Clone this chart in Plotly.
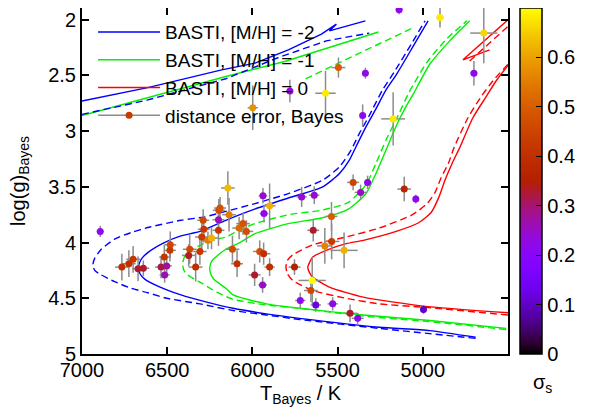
import math
import plotly.graph_objects as go

# ---------------- data: stars (T_Bayes [K], log g_Bayes, sigma_s, errors) ----------------
star_T = [6893, 6766, 6725, 6700, 6671, 6640, 6536, 6517, 6503, 6515,
          6482, 6484, 6368, 6374, 6333, 6308, 6297, 6285, 6289, 6261,
          6240, 6199, 6199, 6197, 6190, 6144, 6137, 6117, 6090, 6078,
          6055, 6035, 5987, 5957, 5934, 5938, 5932, 5899, 5899, 5940,
          5753, 5711, 5637, 5536, 5643, 5575, 5535, 5462, 5649, 5657,
          5719, 5628, 5529, 5427, 5382, 5409, 5365, 5324, 5109, 5041,
          4996, 5998, 5780, 5571, 5495, 5337, 5353, 5174, 4899, 4642,
          4700, 5139]
star_logg = [3.90, 4.22, 4.19, 4.15, 4.235, 4.23, 4.22, 4.13, 4.21, 4.29,
             4.02, 4.07, 4.06, 4.115, 4.22, 4.08, 3.95, 3.88, 3.80, 3.98,
             3.96, 3.89, 3.795, 3.71, 3.69, 3.51, 3.75, 4.06, 4.19, 3.87,
             3.83, 3.90, 4.29, 4.08, 4.10, 3.58, 3.74, 3.67, 4.22, 4.38,
             4.22, 3.59, 3.575, 3.765, 3.89, 4.03, 3.99, 4.07, 4.34, 4.43,
             4.52, 4.56, 4.55, 4.635, 4.68, 3.46, 3.55, 3.46, 3.52, 3.61,
             4.60, 2.79, 2.64, 2.66, 2.43, 2.48, 2.86, 2.89, 1.98, 2.12,
             2.48, 1.91]
star_sigma = [0.22, 0.40, 0.40, 0.42, 0.33, 0.33, 0.32, 0.42, 0.28, 0.26,
              0.46, 0.42, 0.46, 0.34, 0.40, 0.42, 0.43, 0.42, 0.46, 0.55,
              0.62, 0.42, 0.26, 0.46, 0.48, 0.63, 0.55, 0.47, 0.40, 0.52,
              0.48, 0.47, 0.33, 0.47, 0.40, 0.24, 0.22, 0.62, 0.40, 0.25,
              0.35, 0.24, 0.24, 0.50, 0.33, 0.56, 0.43, 0.62, 0.70, 0.46,
              0.22, 0.12, 0.22, 0.33, 0.22, 0.45, 0.25, 0.22, 0.37, 0.22,
              0.10, 0.58, 0.24, 0.68, 0.50, 0.22, 0.22, 0.68, 0.68, 0.66,
              0.22, 0.22]
star_errT = [20, 40, 40, 40, 35, 35, 35, 30, 30, 30,
             35, 35, 40, 40, 40, 40, 40, 35, 35, 40,
             40, 35, 35, 35, 35, 40, 40, 40, 35, 40,
             40, 40, 35, 40, 40, 25, 25, 35, 30, 25,
             35, 30, 30, 35, 35, 45, 45, 80, 80, 40,
             30, 30, 30, 40, 35, 35, 35, 20, 40, 15,
             20, 30, 20, 60, 40, 20, 15, 70, 20, 80,
             20, 20]
star_errg = [0.05, 0.12, 0.12, 0.12, 0.11, 0.07, 0.10, 0.11, 0.08, 0.07,
             0.12, 0.10, 0.13, 0.10, 0.13, 0.12, 0.13, 0.12, 0.10, 0.08,
             0.10, 0.14, 0.10, 0.10, 0.10, 0.15, 0.15, 0.12, 0.12, 0.10,
             0.10, 0.10, 0.10, 0.10, 0.10, 0.07, 0.08, 0.20, 0.08, 0.07,
             0.07, 0.09, 0.08, 0.13, 0.10, 0.16, 0.16, 0.16, 0.21, 0.10,
             0.07, 0.06, 0.06, 0.08, 0.05, 0.07, 0.07, 0.06, 0.11, 0.04,
             0.04, 0.20, 0.10, 0.20, 0.09, 0.05, 0.10, 0.24, 0.09, 0.27,
             0.11, 0.04]

# ---------------- data: BASTI isochrones ----------------
# [M/H] = -2 (blue)
m2_solid_T = [4690, 4959, 5256, 5723, 5918, 6113, 6279, 6419, 6542, 6630, 6660, 6669,
              6662, 6653, 6614, 6517, 6419, 6308, 6156, 5987, 5789, 5587, 5489, 5431,
              5392, 5333, 5275, 5216, 5154, 5057, 4969]
m2_solid_g = [4.85, 4.79, 4.76, 4.68, 4.64, 4.59, 4.53, 4.47, 4.40, 4.33, 4.28, 4.22,
              4.18, 4.15, 4.09, 4.00, 3.94, 3.90, 3.80, 3.70, 3.60, 3.50, 3.38, 3.26,
              3.14, 2.96, 2.80, 2.63, 2.49, 2.24, 2.01]
m2_solid_hb_T = [7000, 6614, 6180, 5985, 5789, 5595, 5507, 5548, 5337]
m2_solid_hb_g = [2.73, 2.61, 2.45, 2.39, 2.27, 2.13, 2.04, 2.10, 2.01]
m2_dash_T = [4690, 5256, 5723, 5918, 6113, 6308, 6503, 6614, 6712, 6809, 6887, 6925,
             6936, 6925, 6887, 6809, 6712, 6601, 6419, 6283, 6156, 5985, 5789, 5587,
             5489, 5421, 5372, 5314, 5236, 5168, 5068, 4987]
m2_dash_g = [4.86, 4.77, 4.69, 4.65, 4.61, 4.55, 4.50, 4.45, 4.41, 4.35, 4.29, 4.25,
             4.20, 4.14, 4.06, 3.97, 3.91, 3.86, 3.80, 3.77, 3.72, 3.65, 3.56, 3.44,
             3.32, 3.17, 3.02, 2.86, 2.63, 2.47, 2.22, 2.01]
m2_dash_hb_T = [7000, 6614, 6156, 5840, 5566, 5314]
m2_dash_hb_g = [2.85, 2.72, 2.53, 2.335, 2.19, 2.12]

# [M/H] = -1 (green)
m1_solid_T = [4511, 4959, 5349, 5723, 5918, 6113, 6156, 6226, 6245, 6250, 6236, 6200,
              6156, 6074, 5985, 5789, 5595, 5437, 5333, 5275, 5216, 5158, 5099, 5057,
              4959, 4842, 4725]
m1_solid_g = [4.77, 4.70, 4.65, 4.59, 4.55, 4.47, 4.41, 4.33, 4.28, 4.22, 4.16, 4.11,
              4.06, 4.00, 3.92, 3.83, 3.78, 3.70, 3.56, 3.38, 3.17, 2.96, 2.78, 2.67,
              2.40, 2.19, 2.01]
m1_solid_hb_T = [7000, 6614, 6156, 5811, 5548, 5260]
m1_solid_hb_g = [2.86, 2.70, 2.51, 2.375, 2.25, 2.11]
m1_dash_T = [4511, 4959, 5349, 5723, 5918, 6113, 6209, 6302, 6380, 6402, 6409, 6402,
             6380, 6302, 6225, 6156, 6080, 5985, 5789, 5595, 5437, 5333, 5275, 5216,
             5139, 5080, 4975, 4858, 4741]
m1_dash_g = [4.78, 4.71, 4.66, 4.59, 4.56, 4.51, 4.445, 4.36, 4.29, 4.25, 4.20, 4.14,
             4.09, 4.02, 3.975, 3.95, 3.89, 3.83, 3.75, 3.71, 3.64, 3.48, 3.29, 3.08,
             2.84, 2.65, 2.38, 2.17, 2.01]
m1_dash_hb_T = [5688, 5068]
m1_dash_hb_g = [2.53, 2.08]

# [M/H] = 0 (red)
m0_solid_T = [4500, 4998, 5349, 5548, 5646, 5665, 5675, 5665, 5646, 5567, 5450, 5349,
              5156, 5022, 4951, 4905, 4870, 4828, 4784, 4706, 4628, 4570, 4495]
m0_solid_g = [4.63, 4.57, 4.49, 4.40, 4.31, 4.27, 4.22, 4.18, 4.13, 4.07, 4.01, 3.98,
              3.90, 3.82, 3.73, 3.59, 3.44, 3.29, 3.15, 2.88, 2.69, 2.55, 2.40]
m0_solid_hb_T = [4608, 4764, 4500]
m0_solid_hb_g = [2.27, 2.36, 2.00]
m0_dash_T = [4500, 4998, 5256, 5450, 5646, 5763, 5795, 5803, 5795, 5763, 5646, 5450,
             5256, 5061, 4975, 4928, 4893, 4850, 4817, 4735, 4653, 4589, 4501]
m0_dash_g = [4.65, 4.58, 4.55, 4.50, 4.43, 4.34, 4.28, 4.22, 4.16, 4.11, 4.02, 3.95,
             3.87, 3.75, 3.65, 3.55, 3.42, 3.29, 3.15, 2.88, 2.68, 2.55, 2.40]
m0_dash_hb_T = [4725, 4500]
m0_dash_hb_g = [2.37, 2.06]

x_ticks = [7000, 6500, 6000, 5500, 5000]
y_ticks = [2, 2.5, 3, 3.5, 4, 4.5, 5]
cb_ticks = [0, 0.1, 0.2, 0.3, 0.4, 0.5, 0.6, 0.7]
cb_labels = ["0", "0.1", "0.2", "0.3", "0.4", "0.5", "0.6", "0.7"]

# ---------------- palette (gnuplot rgbformulae 7,5,15) ----------------
def pal(x):
    r = math.sqrt(x)
    g = x ** 3
    b = max(0.0, math.sin(2 * math.pi * x))
    return "rgb(%d,%d,%d)" % (round(255 * r), round(255 * g), round(255 * b))

colorscale = [[i / 40, pal(i / 40)] for i in range(41)]

BLUE = "#0000ff"
GREEN = "#00f000"
RED = "#ff0000"
DASH = "7px,4px"
LW = 1.4
ERRC = "#8c8c8c"

fig = go.Figure()


def add_iso(T, g, color, dash, name=None, legend=False, spline=True):
    fig.add_trace(go.Scatter(
        x=T, y=g, mode="lines", name=name, showlegend=legend,
        line=dict(color=color, width=LW, dash=dash,
                  shape="spline" if spline else "linear", smoothing=0.6),
        hoverinfo="skip"))


add_iso(m2_solid_T, m2_solid_g, BLUE, "solid", "BASTI, [M/H] = -2", True)
add_iso(m1_solid_T, m1_solid_g, GREEN, "solid", "BASTI, [M/H] = -1", True)
add_iso(m0_solid_T, m0_solid_g, RED, "solid", "BASTI, [M/H] = 0", True)
add_iso(m2_solid_hb_T, m2_solid_hb_g, BLUE, "solid", spline=False)
add_iso(m1_solid_hb_T, m1_solid_hb_g, GREEN, "solid", spline=False)
add_iso(m0_solid_hb_T, m0_solid_hb_g, RED, "solid", spline=False)
add_iso(m2_dash_T, m2_dash_g, BLUE, DASH)
add_iso(m1_dash_T, m1_dash_g, GREEN, DASH)
add_iso(m0_dash_T, m0_dash_g, RED, DASH)
add_iso(m2_dash_hb_T, m2_dash_hb_g, BLUE, DASH, spline=False)
add_iso(m1_dash_hb_T, m1_dash_hb_g, GREEN, DASH, spline=False)
add_iso(m0_dash_hb_T, m0_dash_hb_g, RED, DASH, spline=False)

# legend sample for the data points
fig.add_trace(go.Scatter(
    x=[None], y=[None], mode="lines+markers", name="distance error, Bayes",
    line=dict(color=ERRC, width=1.5),
    marker=dict(color=pal(0.43 / 0.7), size=7)))

fig.add_trace(go.Scatter(
    x=star_T, y=star_logg, mode="markers", showlegend=False,
    error_x=dict(type="data", array=star_errT, color=ERRC, thickness=1.5, width=0),
    error_y=dict(type="data", array=star_errg, color=ERRC, thickness=1.5, width=0),
    marker=dict(size=7, color=star_sigma, colorscale=colorscale, cmin=0, cmax=0.70001,
                line=dict(width=0),
                colorbar=dict(
                    x=1.028, xanchor="left", y=0.5, yanchor="middle",
                    lenmode="pixels", len=346,
                    thickness=22, outlinewidth=1.5, outlinecolor="black",
                    tickvals=cb_ticks, ticktext=cb_labels, ticks="inside", ticklen=6,
                    tickcolor="black", tickfont=dict(size=20), ypad=0, xpad=0,
                ))))

axis_common = dict(showline=True, linewidth=2, linecolor="black", mirror="ticks",
                   ticks="inside", ticklen=7, tickwidth=1.5, tickcolor="black",
                   showgrid=False, zeroline=False, tickfont=dict(size=20),
                   automargin=False)

# the page body adds an 8 px offset, so the figure is drawn 8 px smaller
fig.update_layout(
    width=590, height=403,
    margin=dict(l=74, r=90, t=0, b=57, autoexpand=False),
    paper_bgcolor="white", plot_bgcolor="white",
    font=dict(family="Liberation Sans, Arial, sans-serif", size=20, color="black"),
    xaxis=dict(range=[7000, 4500], tickvals=x_ticks, ticklabelstandoff=-3, **axis_common),
    yaxis=dict(range=[5, 1.895], tickvals=y_ticks, **axis_common),
    legend=dict(x=0.026, y=0.985, xanchor="left", yanchor="top",
                bgcolor="rgba(0,0,0,0)", borderwidth=0, font=dict(size=19),
                itemwidth=62, tracegroupgap=0),
    showlegend=True,
    annotations=[
        dict(text="T<sub>Bayes</sub> / K", xref="paper", yref="paper",
             x=0.515, y=-0.118, xanchor="center", yanchor="middle", showarrow=False,
             font=dict(size=20)),
        dict(text="log(g)<sub>Bayes</sub>", xref="paper", yref="paper",
             x=-0.148, y=0.5, xanchor="center", yanchor="middle", textangle=-90,
             showarrow=False, font=dict(size=20)),
        dict(text="σ<sub>s</sub>", xref="paper", yref="paper",
             x=1.08, y=-0.085, xanchor="center", yanchor="middle", showarrow=False,
             font=dict(size=20)),
    ],
)

fig.write_html("out.html")
